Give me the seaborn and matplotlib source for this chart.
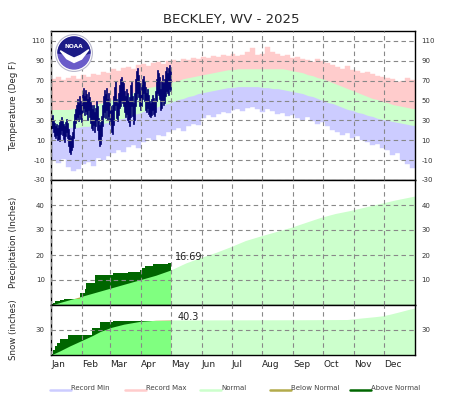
import matplotlib
matplotlib.use("Agg")
import matplotlib.pyplot as plt
from matplotlib.lines import Line2D
from matplotlib.patches import Circle, Polygon
import numpy as np
import seaborn as sns

# ---- data ----
# temperature climatology, one value per 5-day block starting at day 0
rec_days = list(range(0, 365, 5))
rec_max = [72, 74, 71, 73, 75, 72, 76, 74, 77, 76,
           79, 78, 82, 80, 83, 84, 82, 86, 87, 85,
           88, 89, 87, 90, 91, 89, 92, 91, 93, 92,
           94, 93, 95, 94, 96, 95, 97, 95, 96, 99,
           103, 96, 97, 104, 99, 97, 95, 96, 93, 94,
           92, 91, 89, 92, 90, 88, 86, 84, 82, 85,
           81, 80, 78, 79, 77, 75, 74, 73, 72, 69,
           70, 73, 71]
rec_min = [-10, -13, -9, -17, -21, -19, -14, -12, -16, -8,
           -10, -6, -3, 0, -2, 3, 5, 2, 8, 12,
           10, 15, 14, 18, 20, 22, 19, 24, 26, 25,
           32, 35, 33, 36, 38, 37, 40, 41, 39, 42,
           43, 41, 38, 41, 39, 36, 37, 34, 35, 32,
           30, 33, 29, 26, 28, 24, 20, 18, 15, 17,
           12, 14, 10, 8, 5, 6, 2, 0, -5, -3,
           -10, -14, -18]
norm_max = [41, 41, 41, 41, 42, 42, 43, 44, 45, 47,
            48, 50, 51, 53, 55, 56, 58, 60, 61, 63,
            64, 65, 67, 68, 69, 70, 72, 73, 74, 75,
            76, 77, 78, 79, 80, 81, 81, 82, 82, 82,
            82, 82, 82, 82, 82, 82, 82, 81, 80, 79,
            78, 76, 75, 73, 72, 70, 68, 66, 64, 62,
            60, 58, 56, 54, 52, 51, 49, 48, 46, 45,
            44, 43, 42]
norm_min = [24, 23, 23, 23, 23, 23, 24, 24, 25, 26,
            27, 28, 29, 31, 32, 34, 36, 37, 39, 41,
            42, 44, 46, 47, 49, 51, 52, 54, 55, 57,
            58, 59, 60, 61, 62, 63, 63, 64, 64, 64,
            64, 64, 63, 63, 62, 62, 61, 60, 59, 58,
            57, 55, 54, 52, 50, 48, 47, 45, 43, 41,
            40, 38, 37, 35, 34, 32, 31, 30, 29, 28,
            27, 26, 25]

# observed daily high / low, Jan 1 - Apr 30 2025
hi_temp = [34, 35, 30, 27, 24, 26, 22, 25, 28, 30, 33, 29, 26, 24, 28, 31, 27, 21, 15, 12,
           14, 18, 29, 36, 41, 45, 52, 48, 55, 50, 46,
           58, 63, 55, 61, 57, 52, 59, 54, 49, 45, 41, 46, 38, 42, 50, 44, 32, 25, 28, 34,
           46, 55, 61, 57, 63, 52, 58, 48,
           44, 40, 46, 55, 64, 70, 52, 48, 58, 66, 72, 74, 70, 68, 60, 55, 62, 58, 50, 54,
           66, 69, 55, 48, 58, 72, 80, 83, 76, 68, 60,
           66, 72, 75, 70, 64, 58, 62, 56, 50, 48, 52, 56, 53, 49, 60, 72, 81, 78, 74, 62,
           70, 76, 68, 72, 80, 84, 78, 83, 86, 80]
lo_temp = [22, 22, 18, 14, 12, 15, 10, 11, 9, 16, 20, 15, 11, 8, 14, 18, 12, 4, -2, -4,
           0, 3, 12, 22, 27, 30, 33, 29, 36, 31, 28,
           38, 42, 35, 39, 36, 30, 40, 33, 27, 22, 20, 25, 18, 24, 30, 20, 10, 4, 6, 14,
           24, 33, 38, 32, 40, 30, 34, 26,
           26, 18, 16, 25, 40, 46, 32, 29, 35, 42, 45, 50, 48, 44, 38, 33, 36, 30, 28, 24,
           33, 45, 34, 26, 30, 44, 52, 58, 54, 45, 40,
           45, 52, 58, 50, 40, 38, 42, 36, 34, 33, 35, 40, 36, 34, 38, 50, 58, 56, 52, 40,
           42, 50, 46, 48, 55, 60, 58, 56, 62, 60]

# accumulated precipitation (inches): days where the total steps up
precip_days = [0, 2, 4, 9, 13, 29, 34, 35, 44, 62, 77, 89, 91, 94, 102, 117]
precip_total = [0.3, 0.9, 1.7, 2.0, 2.4, 4.7, 6.6, 8.7, 12.0, 12.7, 13.2, 14.0, 14.7, 15.6, 16.3, 16.69]
pnorm_days = [0, 15, 30, 45, 60, 75, 90, 105, 120, 135, 150, 165, 180, 195, 210, 225,
              240, 255, 270, 285, 300, 315, 330, 345, 365]
pnorm_vals = [0.0, 1.7, 3.4, 5.1, 6.8, 8.5, 10.2, 11.9, 14.0, 16.8, 19.0, 21.0, 23.3, 25.8,
              27.6, 29.3, 31.0, 33.0, 35.0, 36.6, 37.8, 39.2, 40.6, 42.0, 43.6]

# accumulated snowfall (inches)
snow_days = [0, 2, 4, 6, 9, 17, 41, 49, 62]
snow_total = [1.0, 6.5, 11.0, 14.0, 19.0, 24.0, 32.0, 39.2, 40.3]
snorm_days = [0, 9, 19, 30, 41, 49, 60, 73, 89, 105, 120, 150, 200, 250, 297, 312, 325,
              332, 340, 350, 358, 365]
snorm_vals = [0.0, 5.0, 11.0, 17.0, 23.0, 28.0, 33.0, 37.0, 40.3, 41.7, 42.0, 42.1, 42.2,
              42.3, 42.6, 44.5, 46.0, 47.0, 49.0, 52.0, 54.5, 56.5]

month_starts = [0, 31, 59, 90, 120, 151, 181, 212, 243, 273, 304, 334]
months = ["Jan", "Feb", "Mar", "Apr", "May", "Jun", "Jul", "Aug", "Sep", "Oct", "Nov", "Dec"]

PINK, BLUE, GREEN = "#ffcccc", "#ccccff", "#ccffcc"
BRIGHT, DARK, OLIVE, NAVY = "#80ff80", "#006600", "#b3ab4b", "#000070"

sns.set_theme(style="white")
plt.rcParams["font.family"] = ["DejaVu Sans"]
plt.rcParams["axes.unicode_minus"] = False

W, H = 465, 395
fig = plt.figure(figsize=(W / 100, H / 100), dpi=100)


def box(x0, y0, x1, y1):
    return [x0 / W, 1 - y1 / H, (x1 - x0) / W, (y1 - y0) / H]


ax_t = fig.add_axes(box(51, 31, 415, 180))
ax_p = fig.add_axes(box(51, 180, 415, 305))
ax_s = fig.add_axes(box(51, 305, 415, 355))

# temperature panel
rd = np.array(rec_days)
nmin = np.array(norm_min)
ax_t.bar(rd, np.array(rec_max) - nmin, bottom=nmin, width=5, align="edge",
         color=PINK, edgecolor=PINK, linewidth=0.3)
ax_t.bar(rd, nmin + 3 - np.array(rec_min), bottom=rec_min, width=5, align="edge",
         color=BLUE, edgecolor=BLUE, linewidth=0.3)
xm = np.concatenate([[0], rd + 2.5, [365]])
lo_n = np.concatenate([[norm_min[0]], norm_min, [norm_min[-1]]])
hi_n = np.concatenate([[norm_max[0]], norm_max, [norm_max[-1]]])
ax_t.fill_between(xm, lo_n, hi_n, color=GREEN, linewidth=0, zorder=1.5)
obs_days = np.arange(len(hi_temp))
ax_t.bar(obs_days, np.array(hi_temp) - np.array(lo_temp), bottom=lo_temp, width=1,
         align="edge", color=NAVY, edgecolor=NAVY, linewidth=0.5, zorder=2)
ax_t.set_ylim(-30, 120)
ax_t.set_yticks([-30, -10, 10, 30, 50, 70, 90, 110])
ax_t.set_ylabel("Temperature (Deg F)", fontsize=6.2)

end_day = len(hi_temp)


def accum(ax, step_days, step_vals, n_days, n_vals):
    n_days = np.array(n_days)
    n_vals = np.array(n_vals)
    past = n_days <= end_day
    future = n_days >= end_day
    ax.fill_between(n_days[future], n_vals[future], color=GREEN, linewidth=0)
    ax.fill_between(n_days[past], n_vals[past], color=OLIVE, linewidth=0)
    x = step_days + [end_day]
    y = step_vals + [step_vals[-1]]
    dark = ax.fill_between(x, y, step="post", color=DARK, linewidth=0)
    bright = ax.fill_between(n_days[past], n_vals[past], color=BRIGHT, linewidth=0)
    bright.set_clip_path(dark.get_paths()[0], ax.transData)


accum(ax_p, precip_days, precip_total, pnorm_days, pnorm_vals)
ax_p.set_ylim(0, 50)
ax_p.set_yticks([10, 20, 30, 40])
ax_p.set_ylabel("Precipitation (Inches)", fontsize=6.2)
ax_p.text(end_day + 4, 19.2, f"{precip_total[-1]:.2f}", fontsize=7, va="center", color="#222222")

accum(ax_s, snow_days, snow_total, snorm_days, snorm_vals)
ax_s.set_ylim(0, 60)
ax_s.set_yticks([30])
ax_s.set_ylabel("Snow (inches)", fontsize=6.2)
ax_s.text(end_day + 7, 45.5, f"{snow_total[-1]:.1f}", fontsize=7, va="center", color="#222222")

for ax in (ax_t, ax_p, ax_s):
    ax.set_xlim(0, 365)
    ax.set_xticks(month_starts)
    ax.grid(True, color="#888888", linestyle=(0, (4, 3)), linewidth=0.8)
    ax.set_axisbelow(False)
    ax.tick_params(axis="y", length=0, labelsize=5, labelcolor="#333333",
                   labelright=True, pad=4.5)
    ax.tick_params(axis="x", length=0)
    ax.yaxis.set_label_coords(-0.09, 0.5)
    for s in ax.spines.values():
        s.set_color("black")
        s.set_linewidth(1)
ax_t.tick_params(labelbottom=False)
ax_p.tick_params(labelbottom=False)
ax_s.set_xticklabels(months, ha="left", fontsize=6.5, color="#222222")
ax_s.tick_params(axis="x", pad=3.5)

fig.text(231 / W, 1 - 20 / H, "BECKLEY, WV - 2025", ha="center", va="center", fontsize=9.5)

# legend along the bottom
legend_items = [("Record Min", BLUE, 50), ("Record Max", PINK, 125), ("Normal", GREEN, 200),
                ("Below Normal", OLIVE, 270), ("Above Normal", DARK, 350)]
for label, col, x0 in legend_items:
    fig.add_artist(Line2D([x0 / W, (x0 + 21) / W], [1 - 389.5 / H] * 2, color=col, linewidth=1.8))
    fig.text((x0 + 21) / W, 1 - 387.5 / H, label, fontsize=5, color="#444444", va="center")

# NOAA emblem
ax_logo = fig.add_axes(box(55, 34, 93, 72))
ax_logo.set_xlim(-1, 1)
ax_logo.set_ylim(-1, 1)
ax_logo.axis("off")
ax_logo.add_patch(Circle((0, 0), 0.97, facecolor="white", edgecolor="#b8b8cc", linewidth=0.8))
ax_logo.add_patch(Circle((0, 0), 0.84, color="#6a5cc9"))
ang = np.linspace(0, np.pi, 30)
top = list(zip(0.84 * np.cos(ang), 0.84 * np.sin(ang)))
top += [(-0.84, 0.0), (-0.5, -0.05), (-0.2, -0.22), (0.05, -0.28), (0.4, -0.12), (0.84, 0.0)]
ax_logo.add_patch(Polygon(top, closed=True, color="#1c1c86"))
ax_logo.add_patch(Polygon([(-0.72, 0.12), (-0.35, -0.1), (0.0, -0.27), (0.35, -0.12), (0.78, 0.18),
                           (0.4, -0.32), (0.0, -0.5), (-0.38, -0.3)], closed=True, color="white"))
ax_logo.text(0, 0.36, "NOAA", color="white", fontsize=4.2, fontweight="bold", ha="center", va="center")

fig.savefig("out.png", dpi=100)
